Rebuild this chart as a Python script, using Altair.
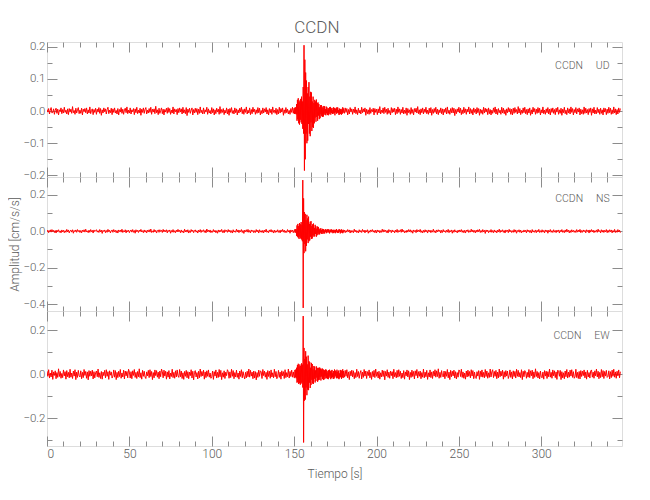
import altair as alt
import pandas as pd

# ---- values in thousandths of cm/s/s ----
# pre-event noise, 0.5 s sampling from t = 0 to 150
UD_PRE = [5, -3, 8, -9, 2, 11, -6, -4, 7, -10, 3, 9, -7, 6, -12, 4, -2, 10, -8, 5,
          -6, 12, -4, 3, -9, 7, -11, 8, -3, 6, -7, 14, -5, 2, -10, 9, -6, 4, 11, -8,
          3, -7, 9, -12, 6, -2, 8, -5, 10, -9, 4, -6, 13, -8, 2, 7, -11, 5, -4, 9,
          -10, 6, -3, 11, -7, 8, -13, 4, -6, 10, -2, 7, -9, 5, 12, -8, 3, -5, 9, -11,
          7, -4, 10, -6, 2, -9, 8, -12, 5, -3, 11, -7, 6, -10, 4, 9, -5, 13, -8, 3,
          -6, 10, -9, 4, -2, 8, -11, 7, -5, 12, -8, 3, -6, 9, -13, 6, -4, 10, -7, 5,
          11, -9, 3, -6, 8, -4, 12, -10, 6, -3, 7, -8, 15, -5, 4, -11, 9, -7, 2, 10,
          -8, 6, -12, 5, -3, 9, -7, 11, -4, 8, -10, 3, -6, 13, -9, 7, -2, 5, -11, 8,
          -5, 10, -3, 7, -9, 12, -6, 4, -8, 11, -14, 6, -4, 9, -7, 3, 10, -12, 5, -6,
          9, -4, 8, -11, 6, -7, 13, -5, 3, -9, 10, -8, 4, -3, 12, -10, 7, -6, 2, -9,
          11, -5, 7, -12, 4, -8, 9, -3, 6, -10, 14, -7, 5, -4, 8, -11, 3, -6, 10, -9,
          6, -13, 8, -4, 11, -7, 2, -9, 10, -5, 7, -12, 4, -6, 9, -3, 12, -8, 5, -10,
          7, -4, 13, -9, 3, -6, 10, -11, 5, -8, 12, -3, 6, -10, 4, -7, 11, -5, 9, -12,
          2, -8, 10, -6, 7, -3, 11, -9, 4, -12, 8, -5, 6, -10, 13, -4, 3, -7, 9, -11,
          5, -9, 12, -6, 8, -3, 10, -13, 4, -7, 11, -5, 6, -9, 2, -10, 8, -4, 12, -7,
          9]
# event window, 0.25 s sampling from t = 150.25 to 180
UD_EVT = [-9, 11, -8, 12, -10,
          22, -30, 35, -25, 40, -38, 28, -42, 33, -27, 38, -35, 45, -40, 30,
          -55, 75, -70,
          205,
          -185, 160, -150, 120, -70, 95, -100, 55, -92, 75, -40, 90,
          -70, 45, -78, 60, -35, 58, -62, 30, -50, 45, -52, 25,
          -38, 35, -20, 30, -33, 36, -18, 25, -30, 27, -14, 22,
          -25, 12, -22, 18, -10, 19, -16, 14, -18, 9, -17, 16,
          -8, 15, -12, 6, -13, 14, -7, 11, -12, 5, -13, 9,
          -10, 12, -4, 13, -11, 8, -6, 10, -9, 3, -8, 12,
          -6, 9, -13, 7, -4, 10, -8, 12, -5, 11, -7, 3,
          -12, 8, -10, 6, -9, 7, -11, 4, -8, 12, -5, 8]
# post-event noise, 0.5 s sampling from t = 180.5
UD_POST = [-7, 10, -4, 8, -12, 5, -9, 11, -3, 7, -10, 6, -5, 13, -8, 4, -11, 9, -6, 3,
           -9, 12, -5, 7, -3, 10, -13, 6, -8, 4, -10, 11, -7, 5, -2, 9, -12, 8, -4, 6,
           -11, 7, -6, 14, -9, 3, -5, 10, -8, 12, -4, 6, -10, 9, -7, 2, -12, 11, -5, 8,
           -3, 9, -11, 6, -8, 13, -4, 7, -10, 5, -6, 12, -9, 3, -7, 10, -13, 8, -5, 4,
           -10, 11, -7, 5, -12, 8, -3, 9, -6, 14, -8, 4, -11, 7, -5, 10, -9, 6, -4, 12,
           -8, 3, -10, 9, -6, 11, -13, 5, -7, 8, -4, 12, -9, 6, -11, 4, -5, 10, -8, 7,
           -12, 6, -4, 10, -9, 13, -7, 3, -10, 8, -5, 11, -6, 9, -14, 5, -8, 7, -3, 12,
           -6, 9, -11, 4, -8, 12, -5, 7, -10, 6, -3, 13, -9, 8, -7, 5, -12, 10, -4, 6,
           -9, 11, -5, 8, -13, 6, -7, 4, -10, 12, -6, 9, -3, 7, -11, 10, -8, 5, -12, 3,
           -7, 10, -4, 13, -9, 6, -11, 8, -5, 3, -10, 12, -6, 9, -8, 4, -13, 7, -5, 11,
           -3, 8, -10, 6, -12, 9, -7, 11, -4, 5, -9, 14, -6, 8, -11, 3, -7, 10, -5, 12,
           -8, 5, -11, 7, -6, 10, -13, 4, -9, 12, -3, 8, -10, 6, -7, 11, -5, 9, -12, 4,
           -6, 13, -8, 3, -10, 7, -5, 11, -9, 6, -12, 8, -4, 10, -7, 5, -11, 9, -3, 12,
           -10, 4, -7, 9, -13, 6, -5, 12, -8, 3, -11, 10, -6, 7, -9, 13, -4, 8, -12, 5,
           -5, 11, -9, 7, -3, 10, -12, 6, -8, 4, -10, 13, -7, 9, -6, 5, -11, 8, -4, 10,
           -13, 7, -6, 12, -9, 3, -8, 11, -5, 6, -10, 9, -7, 4, -12, 10, -3, 8, -11, 6,
           -7, 12, -5, 9, -10, 4, -8, 13, -6, 7, -11, 5, -9, 10, -4, 8]

NS_PRE = [-4, 6, -8, 3, 7, -5, 9, -2, 5, -7, 4, -10, 6, -3, 8, -6, 2, -9, 7, -4,
          5, -8, 3, -6, 10, -4, 7, -9, 2, 6, -5, 8, -11, 4, -3, 7, -6, 9, -2, 5,
          -7, 4, -9, 6, -3, 8, -5, 11, -4, 2, -8, 6, -6, 9, -3, 5, -10, 7, -2, 4,
          8, -5, 3, -7, 9, -4, 6, -12, 5, -2, 7, -8, 4, -6, 10, -3, 5, -9, 2, 7,
          -6, 9, -3, 5, -8, 4, -10, 7, -2, 6, -5, 11, -7, 3, -4, 8, -9, 5, -3, 6,
          -8, 2, 7, -5, 9, -6, 4, -11, 8, -3, 5, -7, 6, -2, 10, -4, 3, -8, 7, -5,
          4, -9, 6, -3, 8, -5, 12, -7, 2, -6, 9, -4, 5, -10, 3, 7, -6, 8, -2, 5,
          -7, 10, -4, 6, -3, 8, -9, 5, -2, 7, -11, 4, -5, 9, -6, 3, -8, 6, -4, 10,
          -3, 5, -8, 7, -6, 2, -9, 11, -4, 6, -5, 8, -10, 3, -7, 9, -2, 6, -8, 4,
          7, -5, 3, -10, 6, -4, 9, -7, 5, -2, 8, -6, 4, -9, 12, -3, 6, -5, 7, -8,
          2, -6, 9, -4, 5, -8, 3, -11, 7, -5, 6, -3, 10, -7, 4, -9, 8, -2, 5, -6,
          9, -4, 6, -7, 3, -10, 8, -5, 2, -6, 11, -4, 7, -8, 5, -3, 9, -7, 4, -12,
          6, -3, 8, -5, 10, -6, 4, -9, 7, -2, 5, -8, 3, -7, 9, -4, 6, -10, 8, -5,
          3, -7, 5, -9, 6, -4, 11, -6, 2, -8, 7, -3, 9, -5, 4, -10, 6, -7, 3, -5,
          8, -6, 4, -9, 7, -3, 10, -5, 6, -8, 2, -7, 9, -4, 5, -11, 7, -3, 6, -8,
          4]
NS_EVT = [9, -7, 11, -8, 10,
          -25, 32, -30, 40, -35, 28, -42, 45, -30, 38, -40, 50, -45, 35, -55,
          280, -420, 180,
          -120, 105, -70, 95, -110, 60, -80, 90, -45, 70, -65, 80,
          -55, 40, -50, 52, -30, 55, -42, 28, -40, 38, -22, 42,
          -30, 18, -28, 35, -15, 27, -30, 14, -22, 26, -12, 23,
          -18, 10, -17, 15, -8, 16, -14, 7, -15, 13, -6, 12,
          -13, 5, -12, 9, -4, 12, -11, 6, -8, 10, -3, 11,
          -7, 4, -12, 9, -5, 8, -7, 10, -3, 6, -11, 8,
          -9, 5, -6, 8, -11, 7, -4, 12, -7, 3, -10, 6,
          -8, 11, -2, 9, -12, 6, -5, 10, -9, 4, -11, 8, -6]
NS_POST = [6, -8, 4, -5, 9, -3, 7, -10, 5, -6, 3, -8, 11, -4, 6, -7, 2, -9, 8, -5,
           4, -7, 10, -3, 6, -9, 5, -4, 8, -11, 3, -6, 7, -2, 9, -5, 4, -8, 6, -10,
           7, -4, 5, -9, 3, -6, 11, -5, 8, -3, 6, -7, 4, -10, 9, -2, 5, -8, 7, -4,
           3, -9, 6, -5, 10, -7, 4, -3, 8, -6, 12, -4, 5, -9, 2, -7, 6, -5, 9, -3,
           8, -6, 4, -11, 7, -2, 5, -8, 9, -4, 6, -3, 10, -7, 3, -9, 5, -6, 8, -4,
           5, -10, 7, -3, 6, -8, 4, -5, 11, -6, 3, -9, 7, -4, 8, -2, 6, -10, 5, -7,
           9, -4, 3, -7, 6, -5, 10, -8, 4, -3, 7, -11, 5, -6, 8, -4, 2, -9, 6, -5,
           7, -3, 9, -6, 4, -8, 5, -10, 6, -2, 8, -7, 3, -5, 11, -4, 7, -6, 4, -9,
           6, -5, 8, -3, 10, -7, 4, -6, 9, -4, 5, -12, 7, -3, 6, -8, 3, -5, 9, -6,
           4, -8, 7, -5, 3, -9, 6, -4, 11, -7, 5, -3, 8, -6, 4, -10, 7, -2, 6, -8,
           10, -4, 5, -7, 3, -6, 9, -5, 7, -11, 4, -3, 8, -6, 6, -9, 2, -5, 7, -4,
           5, -9, 8, -3, 6, -7, 4, -10, 9, -5, 3, -6, 7, -8, 5, -4, 10, -7, 3, -6,
           8, -5, 4, -9, 7, -3, 6, -11, 5, -4, 9, -6, 3, -7, 8, -5, 4, -8, 6, -3,
           7, -10, 5, -4, 9, -6, 3, -8, 7, -5, 11, -3, 6, -9, 4, -7, 8, -4, 5, -6,
           3, -7, 9, -5, 6, -4, 10, -8, 4, -6, 7, -3, 5, -9, 8, -2, 6, -10, 7, -5,
           9, -4, 6, -8, 3, -5, 7, -6, 11, -3, 4, -9, 8, -5, 6, -7, 5, -4, 9, -8,
           5, -6, 8, -3, 7, -9, 4, -5, 10, -7, 3, -6, 9, -4, 6, -8]

EW_PRE = [14, -9, 21, -17, 6, -12, 19, -23, 11, -5, 16, -20, 8, -14, 25, -10, 13, -18, 4, -15,
          20, -7, 12, -22, 17, -11, 9, -16, 23, -13, 6, -19, 15, -8, 21, -24, 10, -14, 18, -6,
          -12, 16, -20, 9, -15, 22, -5, 13, -18, 11, -25, 17, -9, 14, -7, 19, -21, 12, -16, 8,
          15, -11, 24, -14, 7, -19, 13, -22, 10, -6, 18, -16, 21, -9, 12, -23, 16, -4, 11, -17,
          -8, 20, -13, 17, -24, 9, -15, 14, -10, 22, -18, 6, -12, 19, -21, 15, -7, 13, -16, 23,
          10, -17, 12, -20, 16, -5, 22, -14, 9, -19, 13, -11, 25, -15, 7, -22, 18, -9, 14, -12,
          -19, 11, -7, 18, -15, 21, -10, 13, -24, 8, -16, 20, -6, 17, -13, 10, -20, 15, -11, 24,
          12, -16, 19, -8, 14, -22, 11, -13, 17, -21, 6, -10, 23, -15, 9, -18, 16, -12, 20, -7,
          -14, 22, -11, 15, -19, 7, -23, 13, -9, 18, -16, 12, -20, 10, -6, 21, -17, 14, -25, 9,
          17, -12, 8, -21, 14, -16, 24, -10, 13, -7, 19, -22, 11, -15, 16, -9, 20, -13, 6, -18,
          -10, 15, -23, 12, -8, 20, -17, 9, -14, 22, -11, 18, -24, 7, -13, 16, -19, 10, -6, 21,
          13, -18, 11, -15, 23, -9, 17, -20, 8, -12, 19, -14, 6, -22, 15, -10, 21, -16, 12, -7,
          -21, 9, -16, 14, -11, 24, -13, 18, -8, 10, -20, 15, -17, 12, -25, 8, -14, 19, -9, 16,
          11, -19, 22, -6, 15, -13, 9, -23, 17, -10, 14, -18, 20, -12, 7, -16, 23, -11, 13, -20,
          -9, 18, -14, 10, -22, 16, -7, 12, -19, 21, -15, 8, -11, 24, -17, 13, -10, 19, -13, 11,
          -16]
EW_EVT = [-16, 20, -13, 22, -18,
          30, -38, 42, -35, 48, -44, 36, -40, 45, -47, 38, -42, 50, -36, 44,
          -60, 265, -310,
          120, -120, 70, -115, 105, -60, 80, -95, 45, -70, 85, -72,
          60, -38, 55, -62, 30, -48, 52, -25, 47, -42, 22, -44,
          38, -20, 35, -37, 18, -30, 36, -15, 28, -34, 30, -27,
          29, -25, 31, -12, 26, -28, 22, -10, 27, -21, 24, -26,
          20, -23, 18, -9, 22, -19, 21, -17, 8, -20, 16, -22,
          19, -15, 21, -6, 14, -22, 17, -16, 20, -13, 5, -21,
          15, -19, 22, -14, 17, -7, 13, -18, 21, -16, 12, -19,
          17, -22, 4, -15, 20, -12, 18, -21, 16, -13, 23, -17, 15]
EW_POST = [-13, 18, -9, 21, -16, 11, -24, 14, -7, 19, -12, 16, -20, 8, -15, 23, -10, 13, -18, 6,
           17, -21, 10, -14, 22, -8, 15, -19, 12, -6, 20, -16, 9, -23, 13, -11, 18, -15, 24, -9,
           11, -17, 14, -22, 7, -12, 19, -10, 16, -25, 13, -8, 21, -14, 10, -18, 15, -6, 12, -20,
           23, -11, 8, -16, 18, -13, 21, -9, 14, -19, 6, -15, 17, -22, 11, -7, 20, -12, 16, -24,
           9, -14, 19, -10, 13, -21, 16, -6, 22, -17, 12, -9, 15, -20, 8, -13, 24, -16, 10, -11,
           18, -23, 7, -12, 20, -15, 11, -19, 14, -8, 21, -13, 16, -10, 25, -18, 9, -14, 17, -6,
           -12, 15, -20, 13, -9, 22, -16, 10, -24, 18, -11, 14, -7, 19, -17, 12, -21, 8, -13, 20,
           16, -10, 23, -14, 11, -18, 6, -22, 15, -12, 19, -9, 13, -16, 21, -8, 17, -20, 10, -15,
           -19, 12, -8, 17, -23, 14, -11, 20, -13, 9, -16, 22, -10, 15, -18, 7, -14, 24, -12, 11,
           21, -15, 13, -9, 18, -20, 10, -16, 24, -11, 14, -7, 19, -22, 12, -13, 17, -8, 15, -19,
           -6, 20, -14, 11, -21, 16, -10, 13, -17, 23, -9, 18, -12, 8, -15, 21, -24, 14, -11, 17,
           12, -18, 9, -13, 22, -15, 16, -7, 19, -20, 11, -14, 25, -10, 13, -17, 8, -21, 15, -12,
           -16, 10, -22, 17, -8, 14, -19, 12, -11, 24, -13, 9, -18, 20, -7, 16, -15, 11, -23, 19,
           14, -9, 18, -24, 12, -16, 7, -20, 15, -11, 22, -17, 10, -13, 19, -8, 21, -14, 12, -18,
           -11, 23, -15, 9, -19, 13, -21, 17, -10, 14, -6, 20, -16, 11, -22, 18, -12, 8, -17, 15,
           20, -13, 10, -18, 16, -7, 24, -12, 14, -20, 9, -15, 22, -11, 17, -19, 13, -8, 18, -14,
           -10, 16, -21, 12, -15, 19, -9, 23, -13, 11, -18, 14, -7, 20, -16, 12]

X_MAJOR = [0, 50, 100, 150, 200, 250, 300]
X_MINOR = [v for v in range(0, 349, 10) if v % 50]
X_DOMAIN = [0, 349]

PANELS = [
    dict(name="UD", pre=UD_PRE, evt=UD_EVT, post=UD_POST, dom=[-0.205, 0.215],
         major=[-0.2, -0.1, 0.0, 0.1, 0.2],
         minor=[-0.15, -0.05, 0.05, 0.15], lab_v=0.141, h=135),
    dict(name="NS", pre=NS_PRE, evt=NS_EVT, post=NS_POST, dom=[-0.437, 0.297],
         major=[-0.4, -0.2, 0.0, 0.2], minor=[-0.3, -0.1, 0.1], lab_v=0.177, h=134),
    dict(name="EW", pre=EW_PRE, evt=EW_EVT, post=EW_POST, dom=[-0.326, 0.288],
         major=[-0.2, 0.0, 0.2], minor=[-0.3, -0.1, 0.1], lab_v=0.176, h=135),
]

FONT = "Roboto, 'Liberation Sans', sans-serif"
TICK = "#8c8c8c"
TXT = "#5a5a5a"


def trace(p):
    t = ([0.5 * i for i in range(len(p["pre"]))]
         + [150 + 0.25 * (i + 1) for i in range(len(p["evt"]))]
         + [180.5 + 0.5 * i for i in range(len(p["post"]))])
    v = [x / 1000 for x in p["pre"] + p["evt"] + p["post"]]
    return pd.DataFrame({"t": t, "v": v})


def ax(orient, values, size, labels=False, title=None, fmt=None, pad=2, tpad=5, fs=12):
    kw = dict(orient=orient, values=values, tickSize=size, offset=-size,
              domain=False, grid=False, labels=labels, tickColor=TICK,
              tickWidth=1, labelPadding=pad, labelColor=TXT, labelFont=FONT,
              labelFontSize=fs, labelFontWeight=300, titleFont=FONT, titleFontSize=12,
              titleFontWeight=300, titleColor=TXT, titlePadding=tpad,
              title=title)
    if fmt:
        kw["format"] = fmt
    return alt.Axis(**kw)


def panel(p, idx):
    last = idx == len(PANELS) - 1
    xs = alt.Scale(domain=X_DOMAIN, nice=False, zero=False)
    ys = alt.Scale(domain=p["dom"], nice=False, zero=False)
    df = trace(p)
    corners = pd.DataFrame({"t": X_DOMAIN, "v": p["dom"]})

    line = alt.Chart(df).mark_line(color="#ff0000", strokeWidth=1, clip=True).encode(
        x=alt.X("t:Q", scale=xs,
                axis=ax("bottom", X_MAJOR, 10, labels=last, fmt="d",
                        title="Tiempo [s]" if last else None, pad=2, tpad=9)),
        y=alt.Y("v:Q", scale=ys,
                axis=ax("left", p["major"], 10, labels=True, fmt=".1f",
                        title="Amplitud [cm/s/s]" if idx == 1 else None,
                        pad=2, tpad=1, fs=11.5)),
    )
    minor_bl = alt.Chart(corners).mark_point(opacity=0).encode(
        x=alt.X("t:Q", scale=xs, axis=ax("bottom", X_MINOR, 5)),
        y=alt.Y("v:Q", scale=ys, axis=ax("left", p["minor"], 5)),
    )
    major_tr = alt.Chart(corners).mark_point(opacity=0).encode(
        x=alt.X("t:Q", scale=xs, axis=ax("top", X_MAJOR, 10)),
        y=alt.Y("v:Q", scale=ys, axis=ax("right", p["major"], 10)),
    )
    minor_tr = alt.Chart(corners).mark_point(opacity=0).encode(
        x=alt.X("t:Q", scale=xs, axis=ax("top", X_MINOR, 5)),
        y=alt.Y("v:Q", scale=ys, axis=ax("right", p["minor"], 5)),
    )
    lab = alt.Chart(pd.DataFrame({"t": [341.5], "v": [p["lab_v"]],
                                  "s": ["CCDN" + "\u00a0" * 5 + p["name"]]})).mark_text(
        align="right", baseline="middle", font=FONT, fontSize=10.5, fontWeight=300, color=TXT
    ).encode(
        x=alt.X("t:Q", scale=xs, axis=None),
        y=alt.Y("v:Q", scale=ys, axis=None),
        text="s:N",
    )
    return alt.layer(line, minor_bl, major_tr, minor_tr, lab).resolve_axis(
        x="independent", y="independent"
    ).properties(width=575, height=p["h"])


chart = alt.vconcat(*[panel(p, i) for i, p in enumerate(PANELS)],
                    spacing=0, bounds="flush").properties(
    title=alt.TitleParams("CCDN", font=FONT, fontSize=17, fontWeight=300,
                          color=TXT, anchor="middle", offset=2),
    padding={"left": 0, "top": 10, "right": 5, "bottom": 5},
).configure_view(stroke=TICK, strokeWidth=1).configure(background="white")

chart.save("out.html", embed_options={"renderer": "svg", "actions": False})
